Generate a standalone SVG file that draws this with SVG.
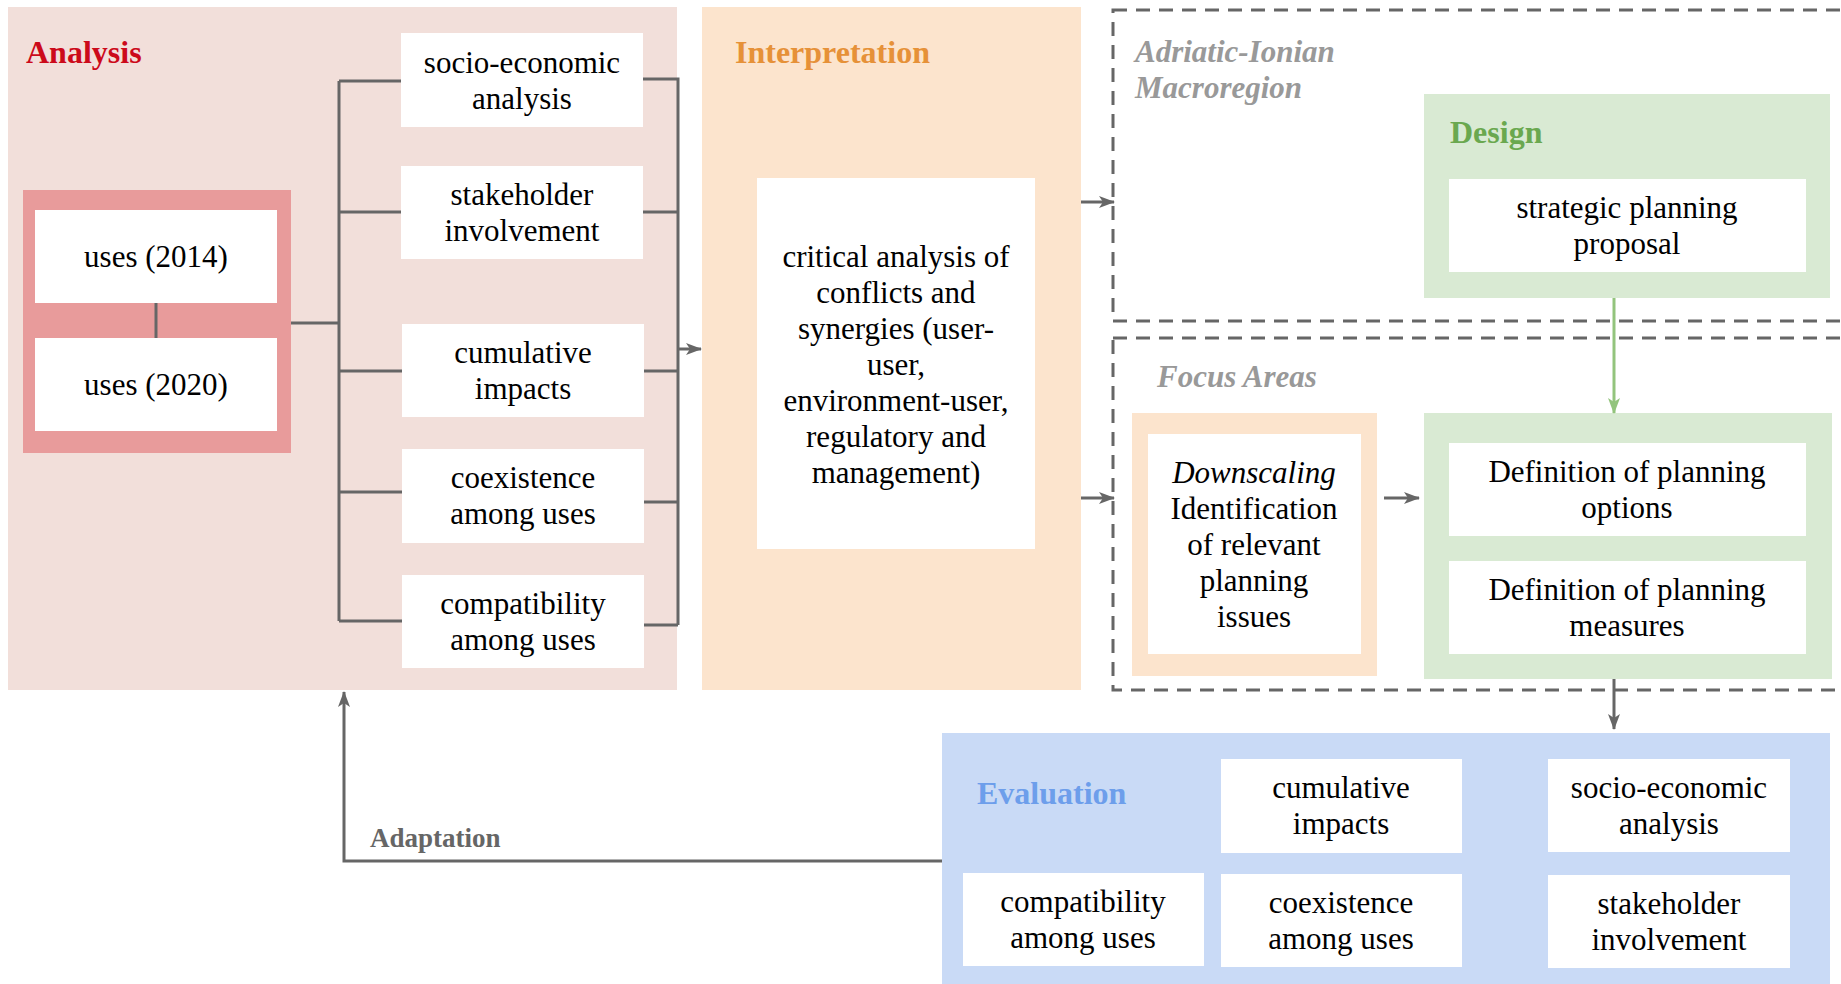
<svg xmlns="http://www.w3.org/2000/svg" width="1841" height="984" viewBox="0 0 1841 984">
<style>
.t{font-family:"Liberation Serif","Times New Roman",serif;font-size:31px;fill:#000;text-anchor:middle}
.h{font-family:"Liberation Serif","Times New Roman",serif;font-size:32px;font-weight:bold}
.hi{font-family:"Liberation Serif","Times New Roman",serif;font-size:31px;font-weight:bold;font-style:italic;fill:#999}
.w{fill:#fff}
.ln{fill:none;stroke:#666;stroke-width:3}
.dash{fill:none;stroke:#666;stroke-width:3;stroke-dasharray:14 9}
</style>
<defs>
<marker id="ag" viewBox="0 0 16 12" refX="15" refY="6" markerWidth="16" markerHeight="12" markerUnits="userSpaceOnUse" orient="auto">
<path d="M0,0 L16,6 L0,12 L4,6 z" fill="#666"/>
</marker>
<marker id="agr" viewBox="0 0 16 12" refX="15" refY="6" markerWidth="16" markerHeight="12" markerUnits="userSpaceOnUse" orient="auto">
<path d="M0,0 L16,6 L0,12 L4,6 z" fill="#93C47D"/>
</marker>
</defs>
<rect width="1841" height="984" fill="#fff"/>

<g id="analysis">
<rect x="8" y="7" width="669" height="683" fill="#F2DFDA"/>
<text class="h" x="26" y="63" fill="#CC0A1A">Analysis</text>
</g>
<g id="uses">
<rect x="23" y="190" width="268" height="263" fill="#E89B9B"/>
<rect class="w" x="35" y="210" width="242" height="93"/>
<text class="t" x="156" y="267">uses (2014)</text>
<rect class="w" x="35" y="338" width="242" height="93"/>
<text class="t" x="156" y="395">uses (2020)</text>
</g>
<g id="a-socio"><rect class="w" x="401" y="33" width="242" height="94"/><text class="t" x="522" y="73">socio-economic</text><text class="t" x="522" y="109">analysis</text></g>
<g id="a-stake"><rect class="w" x="401" y="166" width="242" height="93"/><text class="t" x="522" y="205">stakeholder</text><text class="t" x="522" y="241">involvement</text></g>
<g id="a-cumul"><rect class="w" x="402" y="324" width="242" height="93"/><text class="t" x="523" y="363">cumulative</text><text class="t" x="523" y="399">impacts</text></g>
<g id="a-coex"><rect class="w" x="402" y="449" width="242" height="94"/><text class="t" x="523" y="488">coexistence</text><text class="t" x="523" y="524">among uses</text></g>
<g id="a-compat"><rect class="w" x="402" y="575" width="242" height="93"/><text class="t" x="523" y="614">compatibility</text><text class="t" x="523" y="650">among uses</text></g>

<g id="interpretation">
<rect x="702" y="7" width="379" height="683" fill="#FCE4CD"/>
<text class="h" x="735" y="63" fill="#E69138">Interpretation</text>
<rect class="w" x="757" y="178" width="278" height="371"/>
<text class="t" x="896" y="267">critical analysis of</text>
<text class="t" x="896" y="303">conflicts and</text>
<text class="t" x="896" y="339">synergies (user-</text>
<text class="t" x="896" y="375">user,</text>
<text class="t" x="896" y="411">environment-user,</text>
<text class="t" x="896" y="447">regulatory and</text>
<text class="t" x="896" y="483">management)</text>
</g>

<g id="macroregion">
<rect class="dash" x="1113" y="10" width="760" height="311"/>
<text class="hi" x="1135" y="62">Adriatic-Ionian</text>
<text class="hi" x="1135" y="98">Macroregion</text>
</g>
<g id="focus-areas">
<rect class="dash" x="1113" y="338" width="760" height="352"/>
<text class="hi" x="1157" y="387">Focus Areas</text>
</g>

<g id="design">
<rect x="1424" y="94" width="406" height="204" fill="#D9EAD3"/>
<text class="h" x="1450" y="143" fill="#6AA84F">Design</text>
<rect class="w" x="1449" y="179" width="357" height="93"/>
<text class="t" x="1627" y="218">strategic planning</text>
<text class="t" x="1627" y="254">proposal</text>
</g>

<g id="downscaling">
<rect x="1132" y="413" width="245" height="263" fill="#FCE4CD"/>
<rect class="w" x="1148" y="434" width="213" height="220"/>
<text class="t" x="1254" y="483" font-style="italic">Downscaling</text>
<text class="t" x="1254" y="519">Identification</text>
<text class="t" x="1254" y="555">of relevant</text>
<text class="t" x="1254" y="591">planning</text>
<text class="t" x="1254" y="627">issues</text>
</g>

<g id="definition">
<rect x="1424" y="413" width="408" height="266" fill="#D9EAD3"/>
<rect class="w" x="1449" y="443" width="357" height="93"/>
<text class="t" x="1627" y="482">Definition of planning</text>
<text class="t" x="1627" y="518">options</text>
<rect class="w" x="1449" y="561" width="357" height="93"/>
<text class="t" x="1627" y="600">Definition of planning</text>
<text class="t" x="1627" y="636">measures</text>
</g>

<g id="evaluation">
<rect x="942" y="733" width="888" height="260" fill="#C9DAF6"/>
<text class="h" x="977" y="804" fill="#6D9EEB">Evaluation</text>
</g>
<g id="e-cumul"><rect class="w" x="1221" y="759" width="241" height="94"/><text class="t" x="1341" y="798">cumulative</text><text class="t" x="1341" y="834">impacts</text></g>
<g id="e-socio"><rect class="w" x="1548" y="759" width="242" height="93"/><text class="t" x="1669" y="798">socio-economic</text><text class="t" x="1669" y="834">analysis</text></g>
<g id="e-compat"><rect class="w" x="963" y="873" width="241" height="93"/><text class="t" x="1083" y="912">compatibility</text><text class="t" x="1083" y="948">among uses</text></g>
<g id="e-coex"><rect class="w" x="1221" y="874" width="241" height="93"/><text class="t" x="1341" y="913">coexistence</text><text class="t" x="1341" y="949">among uses</text></g>
<g id="e-stake"><rect class="w" x="1548" y="875" width="242" height="93"/><text class="t" x="1669" y="914">stakeholder</text><text class="t" x="1669" y="950">involvement</text></g>

<g id="connectors">
<line class="ln" x1="156" y1="303" x2="156" y2="338"/>
<path class="ln" d="M291,323 H339 M339,81 V621 M339,81 H401 M339,212 H401 M339,371 H402 M339,492 H402 M339,621 H402"/>
<path class="ln" d="M643,79 H678 V625 M643,212 H678 M644,371 H678 M644,502 H678 M644,625 H678"/>
<line class="ln" x1="678" y1="349" x2="701" y2="349" marker-end="url(#ag)"/>
<line class="ln" x1="1081" y1="202" x2="1114" y2="202" marker-end="url(#ag)"/>
<line class="ln" x1="1081" y1="498" x2="1114" y2="498" marker-end="url(#ag)"/>
<line class="ln" x1="1384" y1="498" x2="1419" y2="498" marker-end="url(#ag)"/>
<line x1="1614" y1="298" x2="1614" y2="413" stroke="#93C47D" stroke-width="3" marker-end="url(#agr)"/>
<line class="ln" x1="1614" y1="679" x2="1614" y2="729" marker-end="url(#ag)"/>
<path class="ln" d="M942,861 H344 V692" marker-end="url(#ag)"/>
<text x="370" y="847" font-family="Liberation Serif, Times New Roman, serif" font-size="27" font-weight="bold" fill="#666">Adaptation</text>
</g>
</svg>
